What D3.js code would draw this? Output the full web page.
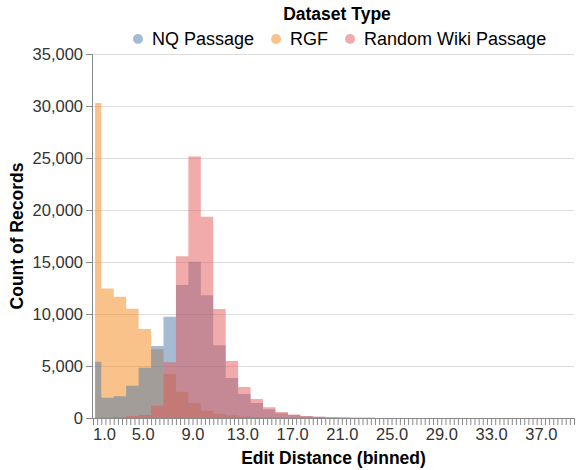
<!DOCTYPE html>
<html lang="en">
<head>
<meta charset="UTF-8"/>
<title>Edit Distance by Dataset Type</title>
<script src="https://d3js.org/d3.v7.min.js"></script>
<style>
  body { margin: 0; background: #fff; }
  svg { font-family: "Liberation Sans", Arial, sans-serif; }
  .grid line { stroke: #ddd; }
  .grid .domain { display: none; }
  .axis .domain, .axis .tick line { stroke: #888; }
  .axis text { fill: #333; font-size: 16.5px; }
  .title { font-weight: bold; font-size: 17.5px; fill: #000; }
</style>
</head>
<body>
<script>

// edit distance values (bin start, bins are 1/3 wide)
var distances = [1, 2, 3, 4, 5, 6, 7, 8, 9, 10, 11, 12, 13, 14, 15, 16, 17, 18, 19, 20, 21, 22, 23, 24];

// counts
var nqPassage = [5400, 1950, 2100, 3100, 4820, 6930, 9740, 12790, 15030, 11800, 6990, 3850,
                 2300, 1450, 850, 460, 280, 170, 110, 70, 45, 30, 20, 12];
var rgf = [30300, 12450, 11650, 10500, 8550, 6600, 4230, 2530, 1450, 690, 400, 260,
           150, 100, 70, 50, 30, 20, 15, 10, 8, 5, 3, 2];
var randomWiki = [30, 50, 90, 190, 290, 1200, 5350, 15550, 25150, 19360, 10480, 5480,
                  2980, 1830, 1030, 580, 330, 200, 130, 80, 50, 30, 20, 12];

var seriesNames = ["NQ Passage", "RGF", "Random Wiki Passage"];
var seriesColors = ["#4c78a8", "#f58518", "#e45756"];
var binStep = 1 / 3;
var yTicks = [0, 5000, 10000, 15000, 20000, 25000, 30000, 35000];

// chart box
var W = 576, H = 470;
var plotLeft = 93, plotRight = 574, plotTop = 54, plotBottom = 418;

var svg = d3.select("body").append("svg")
    .attr("width", W)
    .attr("height", H);

var x = d3.scaleLinear().domain([1, 1 + 116 * binStep]).range([plotLeft, plotRight]);
var y = d3.scaleLinear().domain([0, 35000]).range([plotBottom, plotTop]);

// grid
svg.append("g")
    .attr("class", "grid")
    .attr("transform", "translate(" + plotLeft + ",0)")
    .call(d3.axisLeft(y).tickValues(yTicks).tickSize(-(plotRight - plotLeft)).tickFormat(""));

// build series: one point per bin at its midpoint
function makeSeries(counts) {
  return distances.map(function(d, i) {
    return { x: d + binStep / 2, y: counts[i] };
  });
}

var series = {
  "NQ Passage": makeSeries(nqPassage),
  "RGF": makeSeries(rgf),
  "Random Wiki Passage": makeSeries(randomWiki)
};

var area = d3.area()
    .curve(d3.curveStep)
    .x(function(d) { return x(d.x); })
    .y0(y(0))
    .y1(function(d) { return y(d.y); });

// draw order as in the picture: RGF, NQ, Random Wiki on top
["RGF", "NQ Passage", "Random Wiki Passage"].forEach(function(name) {
  svg.append("path")
      .datum(series[name])
      .attr("fill", seriesColors[seriesNames.indexOf(name)])
      .attr("fill-opacity", 0.5)
      .attr("d", area);
});

// x axis, ticks at every bin boundary
var xTickVals = d3.range(0, 117).map(function(i) { return 1 + i * binStep; });
var xAxis = svg.append("g")
    .attr("class", "axis")
    .attr("transform", "translate(0," + plotBottom + ")")
    .call(d3.axisBottom(x)
      .tickValues(xTickVals)
      .tickSize(7)
      .tickPadding(3)
      .tickFormat(function(d, i) { return i % 12 === 0 ? d3.format(".1f")(d) : ""; }));
xAxis.select(".domain").attr("d", "M" + plotLeft + ",0.5H" + plotRight);
xAxis.selectAll(".tick text").filter(function(d, i) { return i === 0; })
    .attr("text-anchor", "start").attr("x", -0.5);

// y axis
var yAxis = svg.append("g")
    .attr("class", "axis")
    .attr("transform", "translate(" + plotLeft + ",0)")
    .call(d3.axisLeft(y).tickValues(yTicks).tickSize(7).tickPadding(3).tickFormat(d3.format(",")));
yAxis.select(".domain").attr("d", "M-0.5," + plotTop + "V" + plotBottom);

// axis titles
svg.append("text")
    .attr("class", "title")
    .attr("x", (plotLeft + plotRight) / 2)
    .attr("y", 464)
    .attr("text-anchor", "middle")
    .text("Edit Distance (binned)");

svg.append("text")
    .attr("class", "title")
    .attr("transform", "translate(23," + (plotTop + plotBottom) / 2 + ") rotate(-90)")
    .attr("text-anchor", "middle")
    .text("Count of Records");

// legend
svg.append("text")
    .attr("class", "title")
    .attr("x", 337)
    .attr("y", 20)
    .attr("text-anchor", "middle")
    .text("Dataset Type");

var lx = 138;
seriesNames.forEach(function(name, i) {
  svg.append("circle")
      .attr("cx", lx)
      .attr("cy", 39)
      .attr("r", 5)
      .attr("fill", seriesColors[i])
      .attr("fill-opacity", 0.5);
  var t = svg.append("text")
      .attr("x", lx + 14)
      .attr("y", 45)
      .attr("font-size", 18)
      .attr("fill", "#000")
      .text(name);
  lx = lx + 14 + t.node().getComputedTextLength() + 22;
});

</script>
</body>
</html>
